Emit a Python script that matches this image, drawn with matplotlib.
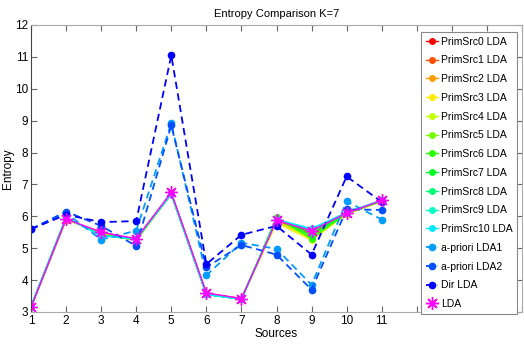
import matplotlib
matplotlib.use("Agg")
import matplotlib.pyplot as plt
import colorsys

plt.rcParams['font.family'] = ['Liberation Sans', 'DejaVu Sans']

sources = [1, 2, 3, 4, 5, 6, 7, 8, 9, 10, 11]

prim = [
    [3.15, 5.90, 5.50, 5.28, 6.72, 3.58, 3.42, 5.85, 5.50, 6.08, 6.48],
    [3.15, 5.90, 5.48, 5.27, 6.72, 3.58, 3.42, 5.83, 5.45, 6.08, 6.48],
    [3.15, 5.92, 5.46, 5.26, 6.70, 3.57, 3.41, 5.82, 5.35, 6.07, 6.47],
    [3.16, 5.92, 5.45, 5.25, 6.70, 3.57, 3.41, 5.80, 5.25, 6.07, 6.47],
    [3.16, 5.93, 5.44, 5.25, 6.70, 3.56, 3.40, 5.85, 5.30, 6.08, 6.48],
    [3.16, 5.94, 5.43, 5.26, 6.70, 3.56, 3.40, 5.92, 5.35, 6.10, 6.48],
    [3.17, 5.95, 5.42, 5.27, 6.70, 3.55, 3.40, 5.97, 5.30, 6.10, 6.48],
    [3.17, 5.95, 5.42, 5.28, 6.70, 3.55, 3.40, 5.95, 5.40, 6.12, 6.50],
    [3.18, 5.96, 5.40, 5.28, 6.70, 3.55, 3.40, 5.93, 5.50, 6.12, 6.50],
    [3.18, 5.96, 5.40, 5.30, 6.70, 3.55, 3.40, 5.90, 5.58, 6.12, 6.50],
    [3.18, 5.97, 5.38, 5.30, 6.70, 3.55, 3.40, 5.90, 5.62, 6.12, 6.50],
]
apriori1 = [5.60, 6.10, 5.27, 5.55, 8.92, 4.15, 5.17, 4.98, 3.85, 6.47, 5.90]
apriori2 = [5.60, 6.15, 5.70, 5.07, 8.85, 4.40, 5.10, 4.80, 3.70, 6.22, 6.20]
dir_lda = [5.60, 6.05, 5.82, 5.85, 11.05, 4.50, 5.42, 5.70, 4.80, 7.25, 6.45]
lda = [3.15, 5.92, 5.50, 5.30, 6.75, 3.60, 3.42, 5.87, 5.55, 6.10, 6.50]

prim_labels = ['PrimSrc%d LDA' % i for i in range(11)]
xtick_labels = ['1', '2', '3', '4', '5', '6', '7', '8', '9', '10', '11']

n = 14
colors = [colorsys.hsv_to_rgb(i / (n - 1) * (240 / 360), 1, 1) for i in range(n)]

fig = plt.figure(figsize=(5.24, 3.44), dpi=100)
ax = fig.add_axes([31 / 524, 32 / 344, 491 / 524, 287 / 344])

for i, ys in enumerate(prim):
    ax.plot(sources, ys, '-', color=colors[i], marker='o', markersize=4, lw=1,
            label=prim_labels[i])
ax.plot(sources, apriori1, '--', color=colors[11], marker='o', markersize=4.5, lw=1.3,
        dashes=(4, 2.5), label='a-priori LDA1')
ax.plot(sources, apriori2, '--', color=colors[12], marker='o', markersize=4.5, lw=1.3,
        dashes=(4, 2.5), label='a-priori LDA2')
ax.plot(sources, dir_lda, '--', color=colors[13], marker='o', markersize=4.5, lw=1.3,
        dashes=(4, 2.5), label='Dir LDA')
ax.plot(sources, lda, '-', color='#ff00ff', marker=(8, 2, 0), markersize=9, lw=1,
        markeredgewidth=1, label='LDA')

ax.set_xlim(1, 15)
ax.set_ylim(3, 12)
ax.set_xticks(range(1, 16))
ax.set_xticklabels(xtick_labels + [''] * 4)
ax.set_yticks(range(3, 13))
ax.tick_params(direction='in', length=4, width=0.8, color='#666666', labelsize=8.5,
               top=True, right=True, pad=2)
for side in ['top', 'right', 'bottom']:
    ax.spines[side].set_color('#aaaaaa')
ax.spines['left'].set_color('#444444')

ax.set_title('Entropy Comparison K=7', fontsize=8, pad=6)
ax.set_xlabel('Sources', fontsize=8.5, labelpad=1)
ax.set_ylabel('Entropy', fontsize=8.5, labelpad=1)

leg = ax.legend(loc='upper right', bbox_to_anchor=(0.99, 0.976), fontsize=7.5,
                fancybox=False, framealpha=1, edgecolor='#888888',
                handlelength=1.2, handletextpad=0.25, labelspacing=0.84,
                borderpad=0.45, borderaxespad=0)
leg.get_frame().set_linewidth(0.8)

fig.savefig('out.png', dpi=100)
